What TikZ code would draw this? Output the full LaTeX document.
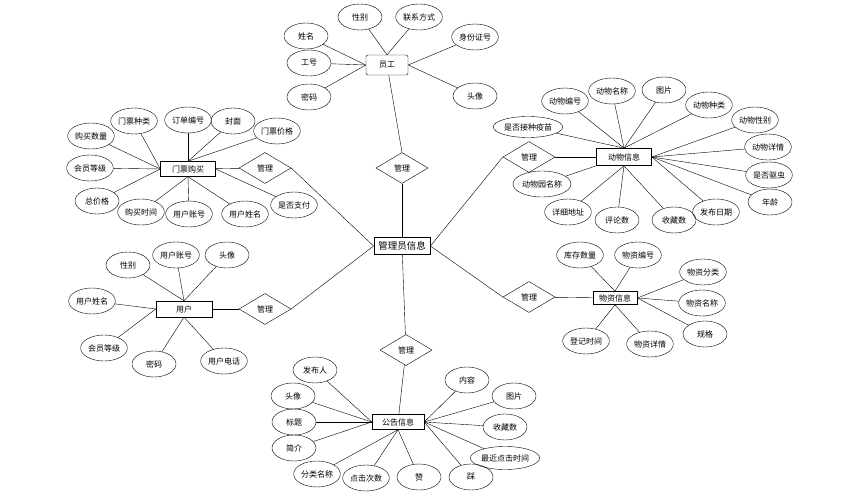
\documentclass[tikz,border=0pt]{standalone}
\usepackage{fontspec}
\setmainfont{Noto Sans CJK SC}
\usetikzlibrary{shapes.geometric}

\tikzset{
  attr/.style={ellipse,draw,minimum width=44pt,minimum height=26pt,inner sep=0.5pt,font=\fontsize{8}{9}\selectfont},
  ent/.style={rectangle,draw,minimum height=16pt,inner sep=2pt,font=\fontsize{8}{9}\selectfont},
  rel/.style={diamond,draw,minimum width=52pt,minimum height=31pt,inner sep=0pt,font=\fontsize{8}{9}\selectfont},
}

\begin{document}
\begin{tikzpicture}[x=1pt,y=-1pt]
              \useasboundingbox (0,0) rectangle (852,500);
              % entities
              \node[ent,minimum width=42pt,minimum height=20pt,rounded corners=2pt](emp)at(387,65){员工};
              \node[ent,thick,minimum width=56pt,minimum height=17pt,font=\fontsize{9.5}{10}\selectfont](adm)at(402,246){管理员信息};
              \node[ent,minimum width=55pt,minimum height=15pt](tkt)at(188,169){门票购买};
              \node[ent,minimum width=56pt](usr)at(184,309){用户};
              \node[ent,minimum width=52pt,minimum height=15pt](ann)at(398,422){公告信息};
              \node[ent,thick,minimum width=55pt,minimum height=17pt](ani)at(624,157){动物信息};
              \node[ent,thick,minimum width=44pt,minimum height=13pt](mat)at(615,298){物资信息};
              % relations
              \node[rel](r1)at(402,168){管理};
              \node[rel](r2)at(265,168){管理};
              \node[rel](r3)at(265,309){管理};
              \node[rel](r4)at(406,350){管理};
              \node[rel](r5)at(529,157){管理};
              \node[rel](r6)at(529,297){管理};
              \draw(emp)--(r1.north); \draw(r1)--(adm);
              \draw(tkt)--(r2); \draw(r2.east)--(adm.west);
              \draw(usr)--(r3); \draw(r3.east)--(adm.west);
              \draw(adm)--(r4); \draw(r4)--(ann);
              \draw(ani)--(r5); \draw(r5.west)--(adm.east);
              \draw(mat)--(r6); \draw(r6.west)--(adm.east);
              % attributes
              \foreach \n/\t/\x/\y/\a in {e1/姓名/306/36/west, e2/性别/360/17/north, e3/联系方式/419/17/north, e4/身份证号/475/37/east, e5/工号/309/63/west, e6/密码/309/97/west, e7/头像/475/96/east}
                {\node[attr](\n)at(\x,\y){\t}; \draw(\n)--(emp.\a);}
              \foreach \n/\t/\x/\y/\a in {t1/门票种类/134/121/west, t2/订单编号/188/120/north, t3/封面/233/121/north, t4/门票价格/277/131/north, t5/购买数量/91/136/west, t6/会员等级/90/168/west, t7/总价格/97/201/west, t8/购买时间/141/212/south, t9/用户账号/189/214/south, t10/用户姓名/245/214/south, t11/是否支付/294/205/east}
                {\node[attr](\n)at(\x,\y){\t}; \draw(\n)--(tkt.\a);}
              \foreach \n/\t/\x/\y/\a in {u1/性别/128/265/north, u2/用户账号/176/255/north, u3/头像/227/255/north, u4/用户姓名/92/301/west, u5/会员等级/104/348/west, u6/密码/154/364/south, u7/用户电话/224/361/south}
                {\node[attr](\n)at(\x,\y){\t}; \draw(\n)--(usr.\a);}
              \foreach \n/\t/\x/\y/\a in {a1/发布人/315/370/west, a2/头像/293/396/west, a3/标题/294/422/west, a4/简介/294/448/west, a5/分类名称/317/474/south, a6/点击次数/366/478/south, a7/赞/419/477/south, a8/踩/471/477/east, a10/收藏数/505/427/east, a11/图片/514/396/east, a12/内容/467/380/east}
                {\node[attr](\n)at(\x,\y){\t}; \draw(\n)--(ann.\a);}
              \node[attr,minimum height=23pt](a9)at(505,458){最近点击时间}; \draw(a9)--(ann.east);
              \foreach \n/\t/\x/\y/\a in {n2/动物编号/565/101/north, n3/动物名称/612/91/north, n4/图片/664/90/north, n5/动物种类/709/105/north, n6/动物性别/755/120/east, n7/动物详情/768/147/east, n8/是否驱虫/769/175/east, n9/年龄/770/202/east, n10/发布日期/716/212/east, n11/收藏数/674/220/south, n12/评论数/617/220/south, n13/详细地址/568/212/south, n14/动物园名称/542/184/south west}
                {\node[attr](\n)at(\x,\y){\t}; \draw(\n)--(ani.\a);}
              \node[attr,minimum height=21pt](n1)at(528,127){是否接种疫苗}; \draw(n1)--(ani.north);
              \foreach \n/\t/\x/\y/\a in {m1/库存数量/580/255/north, m2/物资编号/638/255/north, m3/物资分类/703/272/east, m4/物资名称/702/303/east, m5/规格/705/334/east, m6/登记时间/586/341/south, m7/物资详情/650/344/south}
                {\node[attr](\n)at(\x,\y){\t}; \draw(\n)--(mat.\a);}
            \end{tikzpicture}
\end{document}
